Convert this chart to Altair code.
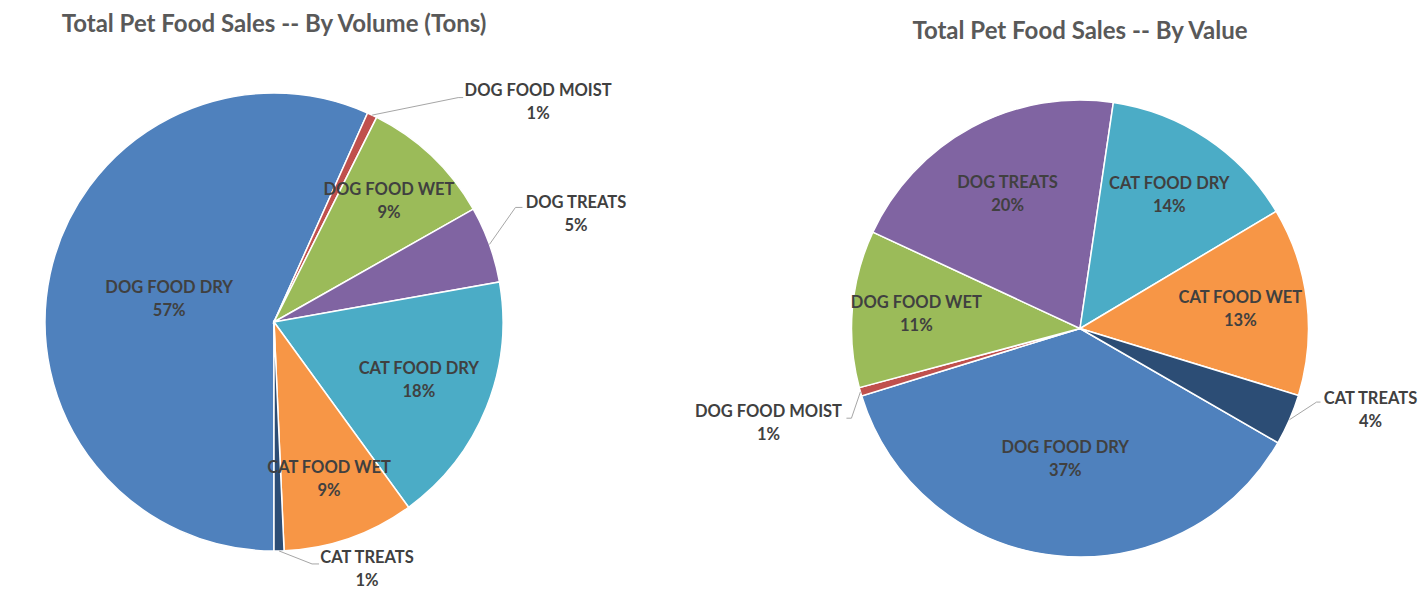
import math
import altair as alt
import pandas as pd

# ---- data ----
categories = ["DOG FOOD DRY", "DOG FOOD MOIST", "DOG FOOD WET", "DOG TREATS",
              "CAT FOOD DRY", "CAT FOOD WET", "CAT TREATS"]
volume_share = [56.7, 0.7, 9.4, 5.4, 17.8, 9.3, 0.7]
value_share = [36.9, 0.6, 11.1, 20.4, 14.1, 13.3, 3.6]
palette = ["#4F81BD", "#C0504D", "#9BBB59", "#8064A2", "#4BACC6", "#F79646", "#2C4D75"]
titles = ["Total Pet Food Sales -- By Volume (Tons)", "Total Pet Food Sales -- By Value"]

FONT = "Lato"
LABEL_COLOR = "#404040"
LEADER_COLOR = "#A6A6A6"

# label nudges for the small slices (leader dx, leader dy, elbow, text dx, text dy)
left_nudges = {
    "DOG FOOD MOIST": (86, -17.5, 5, 166, -12.5),
    "DOG TREATS": (26, -37, 7, 86.5, -30),
    "CAT TREATS": (33, 13, 7, 88, 19),
}
right_nudges = {
    "CAT TREATS": (27, -17.6, 4, 81, -9.6),
    "DOG FOOD MOIST": (-9, 26.4, -5, -92, 32),
}


def make_pie(vals, title_text, title_y, cx, cy, R, start_deg, nudges):
    df = pd.DataFrame({"cat": categories, "val": vals, "idx": list(range(len(categories)))})
    start = math.radians(start_deg)
    base = alt.Chart(df)
    arcs = base.mark_arc(radius=R, stroke="white", strokeWidth=1.5).encode(
        theta=alt.Theta("val:Q", stack=True,
                        scale=alt.Scale(range=[start, start + 2 * math.pi])),
        order=alt.Order("idx:Q"),
        color=alt.Color("cat:N", scale=alt.Scale(domain=categories, range=palette), legend=None),
        x=alt.value(cx),
        y=alt.value(cy),
    )
    geo = base.transform_joinaggregate(total="sum(val)").transform_window(
        cum="sum(val)", sort=[alt.SortField("idx")]
    ).transform_calculate(
        pct="datum.val / datum.total",
        mid=f"{start} + 2*PI*(datum.cum - datum.val/2)/datum.total",
    ).transform_calculate(
        ex=f"{cx} + {R}*sin(datum.mid)",
        ey=f"{cy} - {R}*cos(datum.mid)",
        fr="0.78 - 0.55*datum.pct",
        lab="[datum.cat, format(datum.pct, '.0%')]",
    )
    tstyle = dict(font=FONT, fontSize=16.5, fontWeight="bold", color=LABEL_COLOR,
                  lineHeight=23, baseline="middle", align="center", dy=-11.5)
    inside = geo.transform_filter("datum.pct >= 0.06").transform_calculate(
        lx=f"{cx} + {R}*datum.fr*sin(datum.mid)",
        ly=f"{cy} - {R}*datum.fr*cos(datum.mid)",
    ).mark_text(**tstyle).encode(
        x=alt.X("lx:Q", scale=None), y=alt.Y("ly:Q", scale=None), text="lab:N"
    )
    layers = [arcs, inside]
    for cat, (ldx, ldy, hx, tdx, tdy) in nudges.items():
        sub = geo.transform_filter(alt.datum.cat == cat).transform_calculate(
            px=f"datum.ex + {ldx}", py=f"datum.ey + {ldy}", qx=f"datum.ex + {ldx + hx}",
            tx=f"datum.ex + {tdx}", ty=f"datum.ey + {tdy}",
        )
        r1 = sub.mark_rule(color=LEADER_COLOR, strokeWidth=1).encode(
            x=alt.X("ex:Q", scale=None), y=alt.Y("ey:Q", scale=None), x2="px:Q", y2="py:Q")
        r2 = sub.mark_rule(color=LEADER_COLOR, strokeWidth=1).encode(
            x=alt.X("px:Q", scale=None), y=alt.Y("py:Q", scale=None), x2="qx:Q", y2="py:Q")
        t = sub.mark_text(**tstyle).encode(
            x=alt.X("tx:Q", scale=None), y=alt.Y("ty:Q", scale=None), text="lab:N")
        layers += [r1, r2, t]
    title = alt.Chart(pd.DataFrame({"t": [title_text]})).mark_text(
        font=FONT, fontSize=24, fontWeight="bold", color="#595959",
        align="center", baseline="middle"
    ).encode(x=alt.value(cx), y=alt.value(title_y), text="t:N")
    layers.append(title)
    return layers


left = make_pie(volume_share, titles[0], 17, 266, 314, 229, 180, left_nudges)
right = make_pie(value_share, titles[1], 24, 1072, 320.5, 228.5, 120, right_nudges)

chart = alt.layer(*(left + right)).resolve_scale(theta="independent").properties(
    width=1412, height=592, padding=0, autosize=alt.AutoSizeParams(type="none")
).configure_view(strokeWidth=0)

chart.save("out.html", embed_options={"renderer": "svg", "actions": False})
